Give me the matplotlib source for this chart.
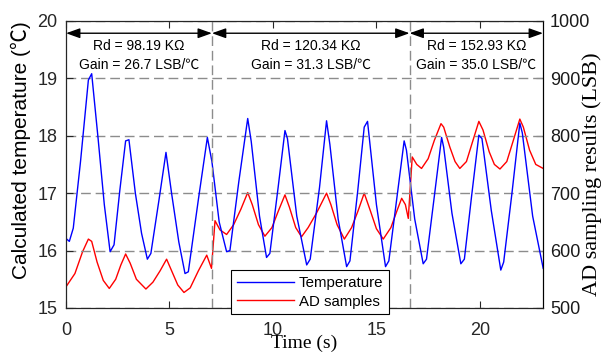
import matplotlib.pyplot as plt

# Temperature (blue, left axis)
temp_t = [0.00, 0.16, 0.35, 0.70, 1.08, 1.24, 1.55, 1.85, 2.13, 2.32, 2.60, 2.88, 3.04,
          3.35, 3.65, 3.93, 4.10, 4.50, 4.83, 5.10, 5.45, 5.75, 5.91, 6.40, 6.83, 7.05,
          7.40, 7.76, 7.92, 8.35, 8.78, 8.95, 9.35, 9.69, 9.85, 10.25, 10.58, 10.70,
          11.15, 11.63, 11.80, 12.25, 12.59, 12.75, 13.15, 13.56, 13.72, 14.10, 14.41,
          14.57, 15.00, 15.44, 15.60, 16.00, 16.34, 16.45, 16.85, 17.26, 17.42, 17.80,
          18.15, 18.25, 18.65, 19.08, 19.25, 19.60, 19.95, 20.10, 20.55, 21.01, 21.15,
          21.55, 21.93, 22.05, 22.55, 23.06]
temp_v = [16.21, 16.16, 16.39, 17.55, 18.97, 19.08, 17.95, 16.80, 15.98, 16.10, 17.05,
          17.91, 17.93, 17.00, 16.30, 15.85, 15.95, 16.90, 17.71, 17.00, 16.15, 15.60,
          15.63, 16.90, 17.97, 17.55, 16.50, 15.98, 16.00, 17.20, 18.30, 17.90, 16.60,
          15.88, 15.95, 17.10, 18.09, 17.95, 16.60, 15.75, 15.85, 17.10, 18.26, 17.85,
          16.55, 15.72, 15.82, 17.05, 18.15, 18.25, 16.80, 15.72, 15.82, 16.95, 17.91,
          17.75, 16.55, 15.77, 15.85, 16.95, 17.97, 17.80, 16.65, 15.77, 15.85, 16.95,
          18.01, 17.95, 16.70, 15.66, 15.80, 17.00, 18.22, 18.05, 16.60, 15.69]

# AD samples (red, right axis)
ad_t = [0.00, 0.43, 0.80, 1.08, 1.24, 1.50, 1.80, 2.09, 2.40, 2.65, 2.88, 3.10, 3.40,
        3.86, 4.20, 4.55, 4.86, 5.10, 5.40, 5.70, 6.00, 6.40, 6.80, 7.03, 7.20, 7.44,
        7.76, 8.10, 8.45, 8.78, 9.00, 9.30, 9.61, 9.95, 10.25, 10.58, 10.80, 11.10,
        11.38, 11.70, 12.10, 12.59, 12.80, 13.10, 13.45, 13.80, 14.10, 14.41, 14.70,
        15.00, 15.33, 15.70, 16.00, 16.22, 16.40, 16.54, 16.73, 16.95, 17.18, 17.50,
        17.80, 18.12, 18.25, 18.55, 18.80, 19.03, 19.35, 19.65, 19.95, 20.15, 20.45,
        20.70, 20.97, 21.30, 21.60, 21.93, 22.10, 22.40, 22.70, 23.06]
ad_v = [537, 560, 598, 620, 616, 580, 548, 534, 550, 575, 594, 578, 550, 533, 545, 565,
        585, 565, 540, 527, 535, 565, 592, 569, 652, 636, 628, 645, 672, 701, 680, 645,
        625, 640, 668, 697, 675, 640, 624, 640, 665, 700, 680, 645, 620, 640, 668, 700,
        670, 638, 620, 640, 670, 691, 680, 656, 763, 750, 743, 760, 792, 821, 815, 780,
        755, 743, 755, 790, 825, 810, 772, 750, 742, 755, 790, 829, 815, 775, 750, 743]

bounds = [0, 7.05, 16.6, 23.05]
rd_labels = ['Rd = 98.19 KΩ', 'Rd = 120.34 KΩ', 'Rd = 152.93 KΩ']
gain_labels = ['Gain = 26.7 LSB/℃', 'Gain = 31.3 LSB/℃', 'Gain = 35.0 LSB/℃']

sans = ['Liberation Sans', 'Noto Sans CJK SC', 'DejaVu Sans']
serif = ['Liberation Serif', 'DejaVu Serif']
plt.rcParams['font.family'] = sans

fig = plt.figure(figsize=(6.03, 3.54), dpi=100)
ax = fig.add_axes([0.1095, 0.13, 0.791, 0.811])
ax2 = ax.twinx()

l1, = ax.plot(temp_t, temp_v, color='#0000ff', lw=1.0, label='Temperature')
l2, = ax2.plot(ad_t, ad_v, color='#ff0000', lw=1.0, label='AD samples')

ax.set_xlim(bounds[0], bounds[-1])
ax.set_ylim(15, 20)
ax2.set_ylim(500, 1000)
ax.set_xticks([0, 5, 10, 15, 20])
ax.set_yticks([15, 16, 17, 18, 19, 20])
ax2.set_yticks([500, 600, 700, 800, 900, 1000])

ax.yaxis.grid(True, color='#8c8c8c', ls=(0, (7, 3.5)), lw=1.0)
for b in bounds[1:-1]:
    ax.axvline(b, color='#8c8c8c', ls=(0, (7, 3.5)), lw=1.0)

ax.tick_params(direction='in', labelsize=13, length=5, color='#262626',
               labelcolor='#262626', top=True)
ax.tick_params(axis='x', pad=10)
ax.tick_params(axis='y', pad=6)
ax2.tick_params(direction='in', labelsize=13, length=5, labelcolor='#1a1a1a', pad=5)
for s in ['left', 'bottom', 'top']:
    ax.spines[s].set_color('#262626')
ax2.spines['right'].set_color('black')

ax.set_ylabel('Calculated temperature (℃)', fontsize=15)
ax.yaxis.set_label_coords(-0.0954, 0.55)
ax.yaxis.label.set_va('center')
ax2.set_ylabel('AD sampling results (LSB)', fontsize=16, family=serif)
ax2.yaxis.set_label_coords(1.103, 0.467)
ax2.yaxis.label.set_va('center')
ax.set_xlabel('Time (s)', fontsize=14, family=serif)
ax.xaxis.set_label_coords(0.5, -0.093)
ax.xaxis.label.set_va('top')

for i in range(3):
    ax.annotate('', xy=(bounds[i], 19.785), xytext=(bounds[i + 1], 19.785),
                arrowprops=dict(arrowstyle='<|-|>,head_length=0.7,head_width=0.25',
                                color='black', lw=1.0, shrinkA=0, shrinkB=0,
                                mutation_scale=12))
    mid = (bounds[i] + bounds[i + 1]) / 2
    ax.text(mid, 19.57, rd_labels[i], ha='center', va='center', fontsize=10)
    ax.text(mid, 19.23, gain_labels[i], ha='center', va='center', fontsize=10)

leg = ax.legend([l1, l2], ['Temperature', 'AD samples'], loc='lower left',
                bbox_to_anchor=(0.346, -0.022), fontsize=10.8, frameon=True,
                fancybox=False, framealpha=1, borderaxespad=0, handlelength=3.8,
                handletextpad=0.35, borderpad=0.38, labelspacing=0.3)
leg.get_frame().set_edgecolor('black')
leg.get_frame().set_linewidth(0.8)
ax.set_zorder(ax2.get_zorder() + 1)
ax.patch.set_visible(False)

fig.savefig('out.png', dpi=100)
